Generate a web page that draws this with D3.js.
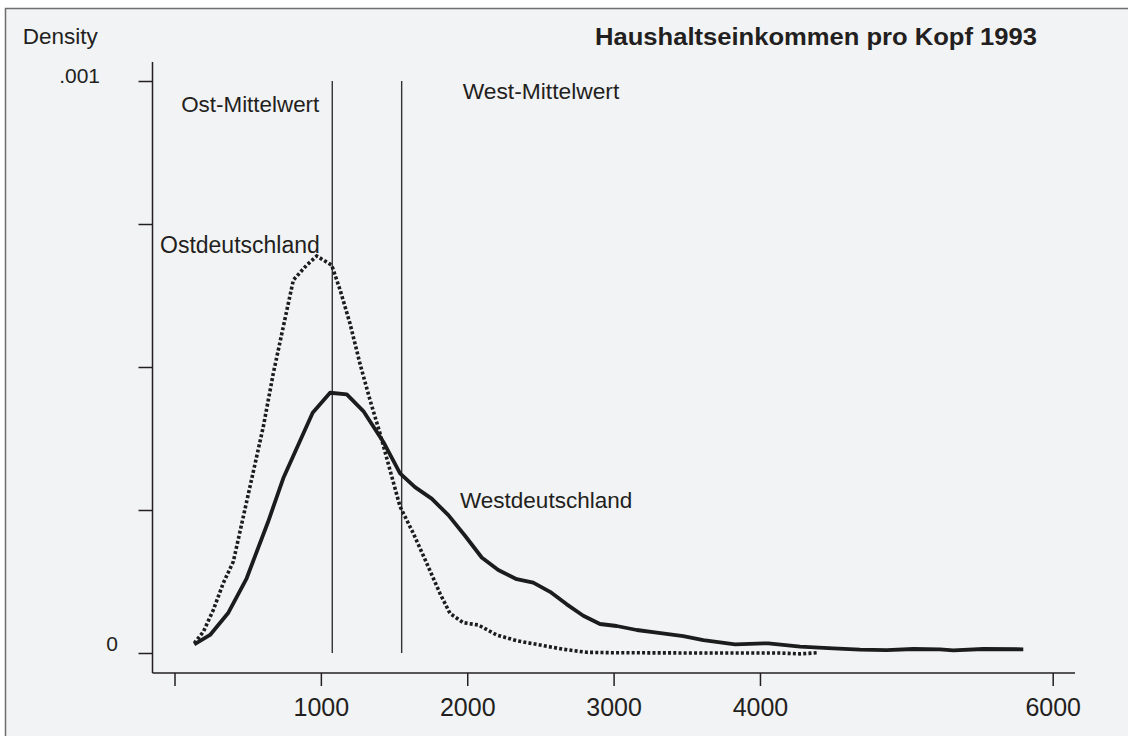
<!DOCTYPE html>
<html><head><meta charset="utf-8">
<script src="https://cdn.jsdelivr.net/npm/d3@7"></script>
<style>body{margin:0;background:#fff}text{font-family:"Liberation Sans",Arial,Helvetica,sans-serif;fill:#231f20}</style>
</head><body><svg id="c" width="1128" height="736"></svg>
<script>
// ---- data ----
const xTicks = [0, 1000, 2000, 3000, 4000, 6000];
const xTickLabels = ["", "1000", "2000", "3000", "4000", "6000"];
const yTicks = [0, 0.00025, 0.0005, 0.00075, 0.001];
const yTickLabels = ["0", "", "", "", ".001"];

const westIncome = [135, 243, 368, 493, 639, 743, 835, 944, 1063, 1177, 1290, 1427, 1541, 1643, 1757, 1871, 1985, 2099, 2212, 2338, 2451, 2566, 2680, 2793, 2907, 3021, 3158, 3295, 3476, 3613, 3830, 4057, 4274, 4501, 4684, 4866, 5048, 5230, 5321, 5526, 5799];
const westDensity = [0.0000152, 0.0000315, 0.0000705, 0.0001306, 0.000229, 0.0003054, 0.000358, 0.00042, 0.000455, 0.000452, 0.000423, 0.000369, 0.000314, 0.00029, 0.00027, 0.000241, 0.000205, 0.000167, 0.000145, 0.000129, 0.000123, 0.000107, 0.0000851, 0.0000652, 0.0000507, 0.0000472, 0.0000402, 0.0000355, 0.0000297, 0.0000227, 0.0000152, 0.000017, 0.000011, 0.0000082, 0.0000058, 0.0000052, 0.000007, 0.0000065, 0.0000047, 0.000007, 0.0000065];

const eastIncome = [135, 197, 265, 333, 402, 528, 607, 675, 743, 812, 903, 972, 1074, 1131, 1199, 1267, 1336, 1404, 1472, 1541, 1632, 1723, 1814, 1882, 1973, 2076, 2201, 2338, 2497, 2657, 2816, 2998, 3590, 4137, 4274, 4399];
const eastDensity = [0.000017, 0.0000372, 0.0000752, 0.000122, 0.00016, 0.000305, 0.000396, 0.000489, 0.00057, 0.000652, 0.000678, 0.000694, 0.000678, 0.000635, 0.000576, 0.000506, 0.000442, 0.000384, 0.00032, 0.000256, 0.000209, 0.000157, 0.000104, 0.0000694, 0.000053, 0.000049, 0.0000315, 0.0000215, 0.000014, 0.0000065, 0.0000012, 0.0000005, 0, 0, -0.0000015, 0.0000005];

const meanNames = ["Ost-Mittelwert", "West-Mittelwert"];
const meanValues = [1078, 1552];
const title = "Haushaltseinkommen pro Kopf 1993";
const yTitle = "Density";

// ---- drawing ----
const svg = d3.select("#c");
svg.append("rect").attr("x", 5.5).attr("y", 8.5).attr("width", 1200).attr("height", 800)
  .attr("fill", "#f2f3f5").attr("stroke", "#6e6e6e").attr("stroke-width", 1.5);

const x = d3.scaleLinear().domain([0, 6000]).range([174.5, 1052.7]);
const y = d3.scaleLinear().domain([0, 0.001]).range([653, 81]);
const axX = 152.5, axY = 673;
const ink = "#231f20";

// x axis
const gx = svg.append("g").attr("transform", `translate(0,${axY})`)
  .call(d3.axisBottom(x).tickValues(xTicks).tickFormat((d, i) => xTickLabels[i]).tickSize(13));
gx.select(".domain").remove();
gx.selectAll(".tick line").attr("stroke", ink).attr("stroke-width", 1.5);
gx.selectAll(".tick text").attr("y", 43).attr("dy", 0).style("font-size", "25px").attr("fill", ink);
svg.append("line").attr("x1", axX).attr("x2", 1075).attr("y1", axY).attr("y2", axY)
  .attr("stroke", ink).attr("stroke-width", 1.5);

// y axis
const gy = svg.append("g").attr("transform", `translate(${axX},0)`)
  .call(d3.axisLeft(y).tickValues(yTicks).tickFormat((d, i) => yTickLabels[i]).tickSize(14));
gy.select(".domain").remove();
gy.selectAll(".tick line").attr("stroke", ink).attr("stroke-width", 1.5);
gy.selectAll(".tick text").attr("dy", d => d === 0 ? -3 : 1)
  .attr("x", d => d === 0 ? -34.5 : -52.5).style("font-size", "21px").attr("fill", ink);
svg.append("line").attr("x1", axX).attr("x2", axX).attr("y1", 62).attr("y2", axY)
  .attr("stroke", ink).attr("stroke-width", 1.5);

// mean lines
svg.selectAll("line.mean").data(meanValues).enter().append("line").attr("class", "mean")
  .attr("x1", d => x(d)).attr("x2", d => x(d)).attr("y1", y(0.001)).attr("y2", y(0))
  .attr("stroke", "#333").attr("stroke-width", 1.4);

// curves
const line = d3.line().x(d => x(d[0])).y(d => y(d[1]));
const westPts = westIncome.map((v, i) => [v, westDensity[i]]);
const eastPts = eastIncome.map((v, i) => [v, eastDensity[i]]);
svg.append("path").attr("d", line(eastPts)).attr("fill", "none").attr("stroke", "#1c1c1c")
  .attr("stroke-width", 3.6).attr("stroke-dasharray", "3,2.2");
svg.append("path").attr("d", line(westPts)).attr("fill", "none").attr("stroke", "#1c1c1c")
  .attr("stroke-width", 3.8).attr("stroke-linejoin", "round");

// texts
svg.append("text").attr("x", 22.7).attr("y", 44).style("font-size", "22.5px").text(yTitle);
svg.append("text").attr("x", 595).attr("y", 44.5).style("font-size", "23px").style("font-weight", "bold")
  .attr("textLength", 442).attr("lengthAdjust", "spacingAndGlyphs").text(title);
svg.append("text").attr("x", x(meanValues[0]) - 13).attr("y", 112).attr("text-anchor", "end")
  .style("font-size", "22.4px").text(meanNames[0]);
svg.append("text").attr("x", x(meanValues[1]) + 61).attr("y", 98.5)
  .style("font-size", "22.8px").text(meanNames[1]);
svg.append("text").attr("x", 160).attr("y", 253).style("font-size", "23px").text("Ostdeutschland");
svg.append("text").attr("x", 460).attr("y", 508).style("font-size", "22.5px").text("Westdeutschland");
</script></body></html>
